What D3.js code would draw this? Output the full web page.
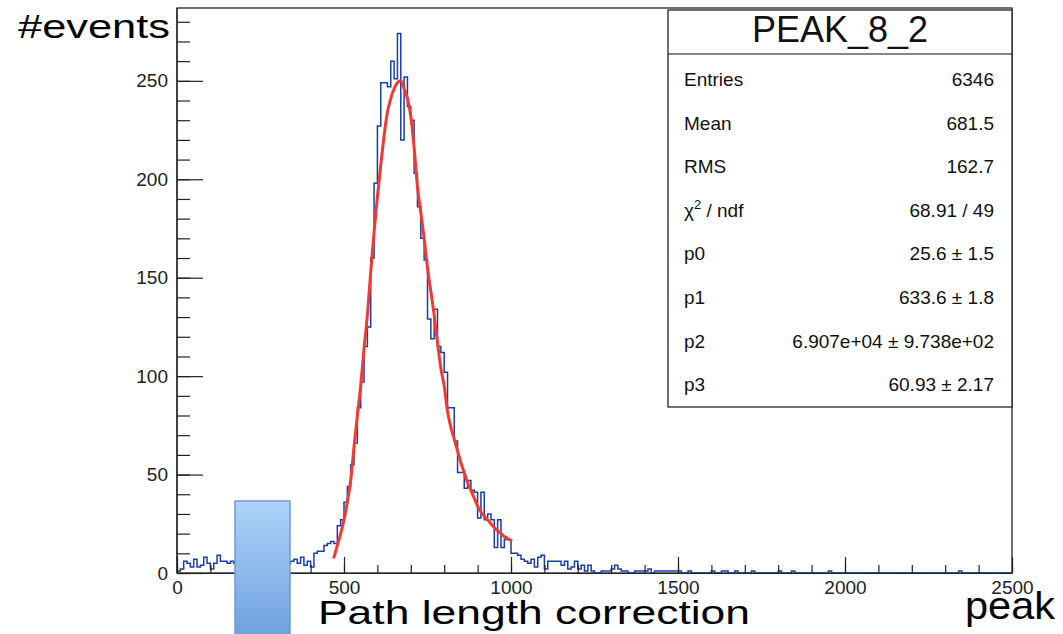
<!DOCTYPE html>
<html>
<head>
<meta charset="utf-8">
<script src="https://cdn.jsdelivr.net/npm/d3@7"></script>
<style>
  body { margin: 0; background: #fff; }
  svg { display: block; }
  text { font-family: "Liberation Sans", Arial, sans-serif; }
</style>
</head>
<body>
<svg id="chart" width="1063" height="634"></svg>
<script>
// histogram: 250 bins of width 10 from 0 to 2500
const binWidth = 10;
const counts = [
    1, 2, 6, 5, 3, 7, 3, 4, 8, 5,               // 0
    2, 5, 9, 6, 6, 5, 6, 5, 4, 6,               // 100
    5, 6, 4, 7, 5, 6, 5, 4, 6, 7,               // 200
    5, 6, 4, 5, 6, 7, 5, 8, 4, 6,               // 300
    3, 10, 11, 11, 14, 15, 16, 15, 24, 27,      // 400
    36, 44, 55, 66, 84, 97, 115, 125, 160, 198, // 500
    227, 249, 249, 247, 260, 251, 274, 220, 252, 237, // 600
    230, 203, 186, 170, 159, 129, 119, 134, 115, 112, // 700
    102, 84, 84, 67, 51, 51, 43, 47, 42, 41,    // 800
    28, 41, 27, 30, 27, 13, 27, 13, 17, 17,     // 900
    10, 10, 9, 7, 6, 5, 7, 3, 8, 9,             // 1000
    2, 6, 6, 6, 6, 4, 6, 2, 3, 6,               // 1100
    2, 4, 1, 4, 1, 0, 0, 1, 1, 1,               // 1200
    2, 4, 2, 1, 1, 0, 0, 1, 1, 1,               // 1300
    1, 2, 0, 1, 1, 1, 1, 1, 1, 1,               // 1400
    1, 0, 0, 1, 0, 0, 0, 0, 0, 0,               // 1500
    1, 0, 0, 1, 1, 0, 0, 1, 0, 0,               // 1600
    0, 0, 1, 0, 0, 0, 0, 0, 0, 0,               // 1700
    1, 0, 0, 0, 1, 0, 0, 0, 0, 0,               // 1800
    0, 0, 0, 0, 0, 1, 0, 0, 0, 0,               // 1900
    0, 0, 0, 0, 0, 0, 0, 0, 0, 0,               // 2000
    0, 0, 0, 0, 0, 0, 0, 0, 0, 0,               // 2100
    0, 0, 0, 0, 0, 0, 0, 0, 0, 0,               // 2200
    0, 0, 0, 0, 1, 0, 0, 0, 0, 0,               // 2300
    0, 0, 0, 0, 0, 0, 0, 0, 0, 0                // 2400
];

// fitted curve
const fitX = [470, 480, 490, 500, 510, 520, 530, 540, 550, 560, 570, 580, 590, 600,
    610, 620, 630, 640, 650, 660, 670, 680, 690, 700, 710, 720, 730, 740, 750, 760,
    770, 780, 790, 800, 810, 820, 830, 840, 850, 860, 870, 880, 890, 900, 910, 920,
    930, 940, 950, 960, 970, 980, 990, 1000];
const fitY = [8, 14, 20, 27, 36, 47, 64, 80, 95, 114, 131, 153, 173, 191,
    207, 222, 234, 241, 246, 249, 250, 246, 241, 232, 216, 196, 183, 170, 155, 143,
    131, 117, 104, 95, 82, 74, 68, 62, 56, 51, 46, 42, 38, 34, 31, 29,
    27, 25, 23, 21.5, 20, 18.5, 17.5, 16.5];

const xTicks = [0, 500, 1000, 1500, 2000, 2500];
const yTicks = [0, 50, 100, 150, 200, 250];

const statTitle = 'PEAK_8_2';
const statNames = ['Entries', 'Mean', 'RMS', 'chi2', 'p0', 'p1', 'p2', 'p3'];
const statValues = ['6346', '681.5', '162.7', '68.91 / 49', '25.6 \u00b1 1.5',
    '633.6 \u00b1 1.8', '6.907e+04 \u00b1 9.738e+02', '60.93 \u00b1 2.17'];

const frame = {left: 177, right: 1012, top: 8, bottom: 573};

const svg = d3.select('#chart');

const x = d3.scaleLinear().domain([0, 2500]).range([frame.left, frame.right]);
const y = d3.scaleLinear().domain([0, 287]).range([frame.bottom, frame.top]);

// frame
svg.append('rect')
    .attr('x', frame.left).attr('y', frame.top)
    .attr('width', frame.right - frame.left).attr('height', frame.bottom - frame.top)
    .attr('fill', 'none').attr('stroke', '#111').attr('stroke-width', 1.2);

// histogram outline
const histPts = counts.map((c, i) => [i * binWidth, c]);
histPts.push([counts.length * binWidth, counts[counts.length - 1]]);
svg.append('path')
    .datum(histPts)
    .attr('fill', 'none')
    .attr('stroke', '#1b3da6')
    .attr('stroke-width', 1.5)
    .attr('d', d3.line().x(d => x(d[0])).y(d => y(d[1])).curve(d3.curveStepAfter));

// fit
svg.append('path')
    .datum(fitX.map((v, i) => [v, fitY[i]]))
    .attr('fill', 'none')
    .attr('stroke', '#ef3b31')
    .attr('stroke-width', 3)
    .attr('stroke-linecap', 'round')
    .attr('d', d3.line().x(d => x(d[0])).y(d => y(d[1])).curve(d3.curveMonotoneX));

// axes
const xMinor = svg.append('g')
    .attr('transform', `translate(0,${frame.bottom})`)
    .call(d3.axisBottom(x).tickValues(d3.range(0, 2501, 100)).tickSizeInner(-8).tickSizeOuter(0).tickFormat(''));
xMinor.select('.domain').remove();

const xAxis = svg.append('g')
    .attr('transform', `translate(0,${frame.bottom})`)
    .call(d3.axisBottom(x).tickValues(xTicks).tickSizeInner(-16).tickSizeOuter(0)
        .tickPadding(8).tickFormat(d3.format('d')));

const yMinor = svg.append('g')
    .attr('transform', `translate(${frame.left},0)`)
    .call(d3.axisLeft(y).tickValues(d3.range(0, 281, 10)).tickSizeInner(-13).tickSizeOuter(0).tickFormat(''));
yMinor.select('.domain').remove();

const yAxis = svg.append('g')
    .attr('transform', `translate(${frame.left},0)`)
    .call(d3.axisLeft(y).tickValues(yTicks).tickSizeInner(-26).tickSizeOuter(0)
        .tickPadding(9).tickFormat(d3.format('d')));

svg.selectAll('.tick line, .domain').attr('stroke', '#222').attr('stroke-width', 1.2);
[xAxis, yAxis].forEach(g => g.selectAll('text')
    .attr('font-family', '"Liberation Sans", Arial, sans-serif')
    .attr('font-size', 19).attr('fill', '#222'));
yAxis.select('.domain').attr('d', `M0,${frame.top}V${frame.bottom}`);

// stats box
const box = {x: 668, y: 10, w: 344, h: 397, titleH: 44, rowH: 43.6, firstRow: 86};
const stats = svg.append('g');
stats.append('rect')
    .attr('x', box.x).attr('y', box.y).attr('width', box.w).attr('height', box.h)
    .attr('fill', '#fff').attr('stroke', '#111').attr('stroke-width', 1.2);
stats.append('line')
    .attr('x1', box.x).attr('x2', box.x + box.w)
    .attr('y1', box.y + box.titleH).attr('y2', box.y + box.titleH)
    .attr('stroke', '#111').attr('stroke-width', 1.2);
stats.append('text')
    .attr('x', box.x + box.w / 2).attr('y', 42)
    .attr('text-anchor', 'middle').attr('font-size', 36).attr('fill', '#111')
    .text(statTitle);

statNames.forEach((name, i) => {
    const yy = box.firstRow + i * box.rowH;
    const t = stats.append('text')
        .attr('x', 684).attr('y', yy)
        .attr('font-size', 19).attr('fill', '#111');
    if (name === 'chi2') {
        t.append('tspan').text('\u03c7');
        t.append('tspan').attr('font-size', 13).attr('dy', -8).text('2');
        t.append('tspan').attr('dy', 8).text(' / ndf');
    } else {
        t.text(name);
    }
    stats.append('text')
        .attr('x', 994).attr('y', yy)
        .attr('text-anchor', 'end').attr('font-size', 19).attr('fill', '#111')
        .text(statValues[i]);
});

// overlay box and slide labels
const defs = svg.append('defs');
const grad = defs.append('linearGradient')
    .attr('id', 'boxGrad').attr('x1', 0).attr('y1', 0).attr('x2', 0).attr('y2', 1);
grad.append('stop').attr('offset', '0%').attr('stop-color', '#afd3fb');
grad.append('stop').attr('offset', '100%').attr('stop-color', '#6c9fdc');

svg.append('rect')
    .attr('x', 235).attr('y', 501).attr('width', 55).attr('height', 140)
    .attr('fill', 'url(#boxGrad)').attr('stroke', '#6f9bd2').attr('stroke-width', 1.5);

const slideFont = 'Lato, "Open Sans", sans-serif';
svg.append('text')
    .attr('x', 18).attr('y', 38)
    .attr('font-family', slideFont).attr('font-size', 33).attr('fill', '#000')
    .attr('textLength', 152).attr('lengthAdjust', 'spacingAndGlyphs')
    .text('#events');
svg.append('text')
    .attr('x', 318).attr('y', 624)
    .attr('font-family', slideFont).attr('font-size', 34).attr('fill', '#000')
    .attr('textLength', 432).attr('lengthAdjust', 'spacingAndGlyphs')
    .text('Path length correction');
svg.append('text')
    .attr('x', 965).attr('y', 619)
    .attr('font-family', slideFont).attr('font-size', 39).attr('fill', '#000')
    .attr('textLength', 90).attr('lengthAdjust', 'spacingAndGlyphs')
    .text('peak');
</script>
</body>
</html>
